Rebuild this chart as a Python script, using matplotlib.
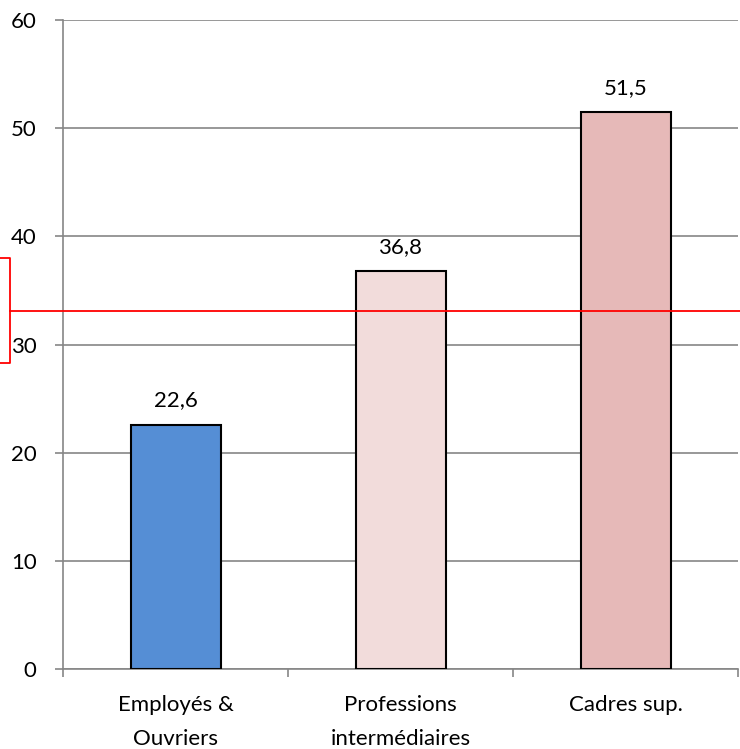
import matplotlib
matplotlib.use("Agg")
import matplotlib.pyplot as plt
from matplotlib.transforms import blended_transform_factory
from matplotlib.lines import Line2D

categories = ["Employés &\nOuvriers", "Professions\nintermédiaires", "Cadres sup."]
values = [22.6, 36.8, 51.5]
labels = ["22,6", "36,8", "51,5"]
colors = ["#558ED5", "#F2DCDB", "#E6B9B8"]
reference_value = 33.1
yticks = [0, 10, 20, 30, 40, 50, 60]

plt.rcParams['font.family'] = ['Lato', 'DejaVu Sans']
FS = 16

W, H = 740, 749
fig = plt.figure(figsize=(W / 100, H / 100), dpi=100)
ax = fig.add_axes([63 / W, 1 - 669 / H, (738 - 63) / W, (669 - 20) / H])

x = list(range(len(categories)))
ax.bar(x, values, width=0.4, color=colors, edgecolor="black", linewidth=1.5, zorder=3)
for xi, v, lab in zip(x, values, labels):
    ax.annotate(lab, (xi, v), xytext=(0, 13), textcoords="offset points",
                ha="center", va="baseline", fontsize=FS, color="black")

ax.set_xlim(-0.5, len(categories) - 0.5)
ax.set_ylim(0, 60)
ax.set_yticks(yticks)
ax.set_yticklabels([str(t) for t in yticks], fontsize=FS)
ax.yaxis.grid(True, color="#868686", linewidth=1.2, zorder=0)
ax.set_axisbelow(True)

ax.set_xticks([i - 0.5 for i in range(len(categories) + 1)], minor=False)
ax.set_xticklabels([""] * (len(categories) + 1))
ax.set_xticks(x, minor=True)
ax.set_xticklabels(categories, minor=True, fontsize=FS, linespacing=1.85)
ax.tick_params(axis="x", which="major", length=6, color="#868686", width=1.2, direction="out")
ax.tick_params(axis="x", which="minor", length=0, pad=19)
ax.tick_params(axis="y", length=6, color="#868686", width=1.2, pad=13)

for s in ["top", "right"]:
    ax.spines[s].set_visible(False)
for s in ["left", "bottom"]:
    ax.spines[s].set_color("#868686")
    ax.spines[s].set_linewidth(1.2)

# red reference line, extending to figure left area
trans = blended_transform_factory(fig.transFigure, ax.transData)
ax.add_line(Line2D([10 / W, 1.0], [reference_value, reference_value], transform=trans,
                   color="red", linewidth=1.3, clip_on=False, zorder=5))
# red cut-off box at left
y_top = 1 - 258 / H
y_bot = 1 - 363 / H
box = Line2D([0, 10 / W, 10 / W, 0], [y_top, y_top, y_bot, y_bot], transform=fig.transFigure,
             color="red", linewidth=1.3)
fig.add_artist(box)

fig.savefig("out.png", dpi=100)
